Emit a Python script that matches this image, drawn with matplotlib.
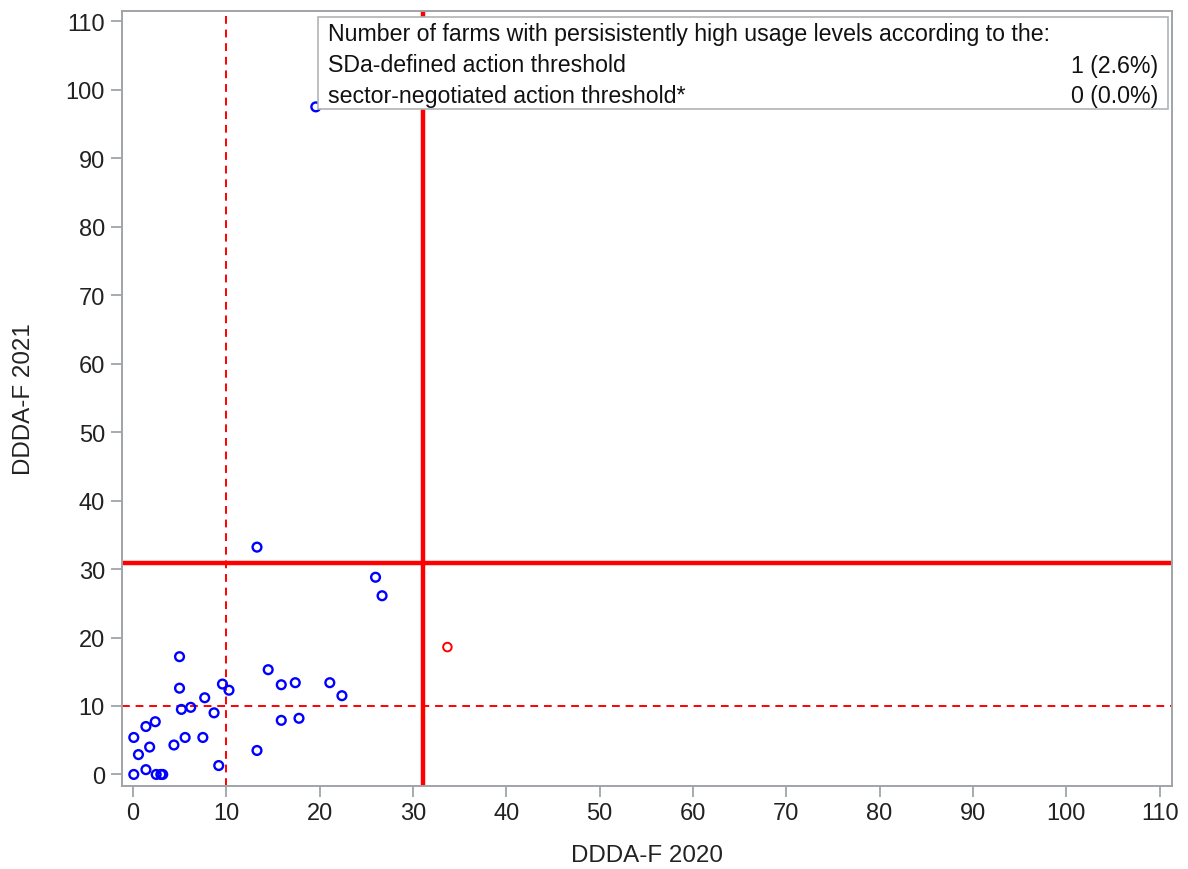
import numpy as np
import matplotlib.pyplot as plt

plt.rcParams['font.family'] = ['Liberation Sans', 'DejaVu Sans']

# DDDA-F per farm, 2020 vs 2021
ddda_2020 = [19.6, 13.3, 26.0, 26.7,
             5.0, 14.5, 9.6, 10.3, 15.9, 17.4, 21.1, 22.4, 5.0, 7.7,
             5.2, 6.2, 8.7, 15.9, 17.8, 2.4, 1.4, 0.1, 5.6, 7.5,
             4.4, 1.8, 0.6, 13.3, 9.2, 1.4, 0.1, 2.5, 3.2, 3.0]
ddda_2021 = [97.5, 33.2, 28.8, 26.1,
             17.2, 15.3, 13.2, 12.3, 13.1, 13.4, 13.4, 11.5, 12.6, 11.2,
             9.5, 9.8, 9.0, 7.9, 8.2, 7.7, 7.0, 5.4, 5.4, 5.4,
             4.3, 4.0, 2.9, 3.5, 1.3, 0.7, 0.0, 0.0, 0.0, 0.0]

# farm above the SDa threshold in both years
high_2020 = [33.7]
high_2021 = [18.6]

sda_threshold = 10
sector_x = 31.1
sector_y = 30.9

legend_rows = [
    ('SDa-defined action threshold', '1 (2.6%)'),
    ('sector-negotiated action threshold*', '0 (0.0%)'),
]

fig = plt.figure(figsize=(11.88, 8.7), dpi=100)
ax = fig.add_axes([0.1024, 0.0957, 0.8839, 0.8905])

ax.axvline(sda_threshold, color='red', lw=1.4, ls=(0, (4, 3)), zorder=1)
ax.axhline(sda_threshold, color='red', lw=1.4, ls=(0, (4, 3)), zorder=1)
ax.axvline(sector_x, color='red', lw=3.2, zorder=1)
ax.axhline(sector_y, color='red', lw=3.2, zorder=1)

ax.scatter(ddda_2020, ddda_2021, s=40, facecolors='none', edgecolors='#0000ff',
           linewidths=1.7, zorder=3)
ax.scatter(high_2020, high_2021, s=38, facecolors='none', edgecolors='#ff0000',
           linewidths=1.4, zorder=3)

ax.set_xlim(-1.2, 111.3)
ax.set_ylim(-1.65, 111.5)
ax.set_xticks(np.arange(0, 111, 10))
ax.set_yticks(np.arange(0, 111, 10))

for sp in ax.spines.values():
    sp.set_color('#a0a4a8')
    sp.set_linewidth(1.4)
ax.tick_params(direction='out', length=8, width=1.3, color='#a0a4a8',
               labelsize=17, labelcolor='#222222', pad=4)

ax.set_xlabel('DDDA-F 2020', fontsize=17.4, color='#222222', labelpad=14)
ax.set_ylabel('DDDA-F 2021', fontsize=17.4, color='#222222', labelpad=22)

# inset table with the farm counts
box = plt.Rectangle((318 / 1188, 1 - 110 / 870), (1168 - 318) / 1188, 92 / 870,
                    transform=fig.transFigure, facecolor='white',
                    edgecolor='#b0b4b8', lw=1.2, zorder=5)
fig.add_artist(box)
fig.text(328 / 1188, 1 - 35 / 870,
         'Number of farms with persisistently high usage levels according to the:',
         fontsize=16.7, va='center', ha='left', color='#111111', zorder=6)
for i, (name, val) in enumerate(legend_rows):
    y = 1 - (66 + 30.5 * i) / 870
    fig.text(328 / 1188, y, name, fontsize=16.7, va='center', ha='left',
             color='#111111', zorder=6)
    fig.text(1158 / 1188, y, val, fontsize=16.7, va='center', ha='right',
             color='#111111', zorder=6)

fig.savefig('out.png', dpi=100)
